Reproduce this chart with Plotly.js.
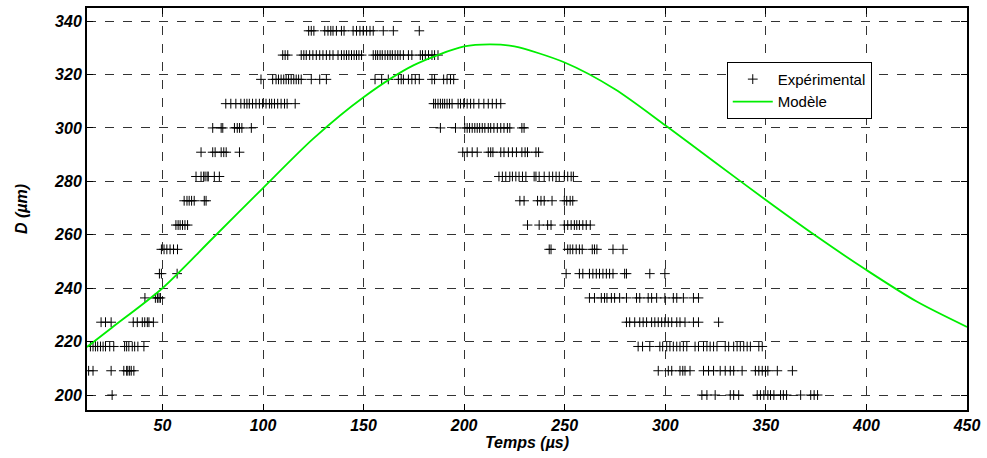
<!DOCTYPE html>
<html>
<head>
<meta charset="utf-8">
<script src="https://cdn.plot.ly/plotly-3.0.1.min.js"></script>
<style>html,body{margin:0;padding:0;background:#fff;}#chart{width:987px;height:458px;}</style>
</head>
<body>
<div id="chart"></div>
<script>
// Diameter levels (µm) of the experimental measurements
const levels = [200, 209.09, 218.18, 227.27, 236.36, 245.45, 254.55, 263.64, 272.73, 281.82, 290.91, 300, 309.09, 318.18, 327.27, 336.36];

// Times (µs) of the experimental points at each level
const t200 = [25, 318.2, 320.7, 324.8, 332.3, 334, 336.5, 345.7, 347.3, 349, 351, 352.3, 354, 357.3, 358.7, 360.3, 367.3, 372.3, 374, 375.7];
const t209 = [13.3, 15.5, 24.5, 30.8, 32.2, 32.8, 33.7, 34.5, 35.8, 296.5, 301.5, 303.2, 307.3, 308.7, 309.8, 312.3, 319, 321.5, 324, 327.3, 329.8, 332.3, 334, 338.2, 344.8, 346.5, 348.2, 349.8, 351, 355.7, 363.2];
const t218 = [14.2, 15.5, 16.7, 17.8, 19.2, 20.5, 21.7, 23.8, 25.8, 31.2, 32.2, 33.3, 35, 36.2, 37.8, 40.8, 286.5, 288.7, 292.3, 297.3, 298.7, 300.7, 302.3, 304, 305.7, 307.3, 309, 310.7, 314.8, 316.5, 319, 320.7, 322.3, 324, 325.7, 329.8, 331.5, 334, 335.7, 337.3, 339, 340.7, 342.3, 346.5, 348.2];
const t227 = [19.5, 21.7, 24.5, 35.5, 37.5, 40, 41.2, 42.5, 43.3, 45.5, 280.7, 282.3, 284.8, 287.3, 289, 290.7, 293.2, 294.8, 296.5, 298.2, 299.8, 301.5, 303.2, 305.7, 307.3, 309.8, 314, 316.5, 326.5];
const t236 = [41.3, 46.5, 47.5, 48.3, 49, 262.3, 264.8, 268.2, 269.8, 271, 273.2, 274.8, 277.3, 280.7, 285.7, 287.3, 291.5, 293.2, 295.7, 299.8, 304, 305.7, 309, 314, 316.5];
const t245 = [48.5, 49.5, 57.3, 250.7, 257.3, 259, 262.3, 264, 265.7, 267.3, 269, 270.7, 272.3, 274, 279.8, 280.7, 292.3, 299.8];
const t255 = [49.5, 50.8, 52.2, 53.8, 55.5, 57.5, 242.3, 243.2, 251.5, 252.7, 254, 255.7, 257.3, 258.7, 263.7, 264.8, 266, 274, 279];
const t264 = [56.7, 57.8, 58.8, 60, 61.2, 62.5, 231.5, 237.3, 241.5, 243.2, 249.8, 251.5, 253.2, 254.8, 256, 257.3, 259, 260.7, 262.7];
const t273 = [60.8, 62.2, 63.3, 64.5, 65.8, 70.8, 71.7, 227.7, 229.8, 236.5, 238.2, 239.8, 243.7, 249.8, 251, 252.7, 254];
const t282 = [66.7, 69.2, 70.5, 71.2, 72.2, 72.8, 75.8, 78.3, 217.3, 219, 220.7, 222.7, 224, 225.7, 227.3, 229, 230.7, 234.8, 235.7, 237.3, 239.8, 242.3, 244, 245.7, 247.3, 249.8, 251.5, 253.2, 254.3];
const t291 = [69.2, 75, 76.2, 79.2, 80.5, 81.7, 88.3, 199.3, 201.5, 204, 206.5, 212, 213.2, 214.3, 218.2, 219.8, 222, 224, 226, 228.7, 230.3, 231.5, 235.7, 237];
const t300 = [75, 79.2, 80, 85.8, 87.2, 88.3, 89.5, 94.2, 188.2, 195.7, 200.3, 201.5, 202.7, 204, 205.3, 206.5, 207.7, 209, 210.3, 212, 213.2, 214.8, 216.5, 218.2, 219.8, 221.5, 222.7, 228.7, 229.8];
const t309 = [81.5, 84, 86.5, 89, 90.7, 92, 93.2, 94.8, 96.5, 98.2, 99.8, 101.5, 103.2, 104.3, 105.7, 107.3, 109, 110.7, 112, 116, 184.8, 185.7, 187, 188.2, 189.3, 190.3, 191.5, 192.7, 194, 197, 198.2, 199.8, 201.5, 203.2, 204.8, 207.3, 209.8, 212, 214, 216, 218.2];
const t318 = [99, 104.8, 106.5, 107.7, 109, 110.3, 111.5, 112.7, 114, 115.3, 116.5, 117.7, 119, 124, 128.2, 131.5, 155.7, 159, 162.3, 167.3, 168.7, 169.8, 172.3, 174, 175.7, 177.7, 184, 185.3, 189.8, 191.5, 193.2, 194.8];
const t327 = [109.8, 111, 112.3, 119, 120.3, 121.5, 123.2, 124.8, 126.5, 128.2, 129.8, 131.5, 133.2, 134.8, 137.3, 139, 140.3, 141.5, 142.7, 144, 145.3, 146.5, 147.7, 149, 154.8, 156, 157, 158.2, 159.3, 160.7, 162, 163.2, 164.3, 165.7, 167, 168.2, 169.8, 172.3, 174, 178.2, 179.3, 180.7, 182.3, 184, 185.3, 187];
const t336 = [122.7, 124, 125.3, 130.7, 132.3, 133.7, 134.8, 136.5, 139, 140.3, 144.8, 146.5, 148.2, 149.8, 151.5, 153.2, 154.8, 159.8, 164.8, 177.7];
const levelTimes = [t200, t209, t218, t227, t236, t245, t255, t264, t273, t282, t291, t300, t309, t318, t327, t336];

// Model curve
const modelT = [12.5, 25, 50, 75, 100, 125, 150, 175, 200, 213, 225, 250, 275, 300, 325, 350, 375, 400, 425, 450];
const modelD = [218, 225.3, 240, 258.7, 277.5, 296, 311.5, 323.5, 330.5, 331.3, 330.5, 324.5, 314.5, 301, 287, 273, 259.5, 246.8, 235, 225.5];

const xTicks = [50, 100, 150, 200, 250, 300, 350, 400, 450];
const yTicks = [200, 220, 240, 260, 280, 300, 320, 340];

const expX = [], expY = [];
levelTimes.forEach((arr, i) => arr.forEach(t => { expX.push(t); expY.push(levels[i]); }));

const tickFont = {family: 'Liberation Sans, Arial, sans-serif', size: 16, color: '#000', weight: 'bold', style: 'italic'};
const axisCommon = {
  showline: true, linecolor: '#000', linewidth: 2, mirror: 'ticks',
  ticks: 'inside', ticklen: 6, tickcolor: '#000', tickwidth: 1,
  showgrid: true, gridcolor: '#333', griddash: 'dash', gridwidth: 1,
  zeroline: false, tickfont: tickFont
};

const traces = [
  {x: expX, y: expY, type: 'scatter', mode: 'markers', name: 'Expérimental',
   marker: {symbol: 'cross-thin', size: 7, color: '#000', line: {color: '#000', width: 1}}},
  {x: modelT, y: modelD, type: 'scatter', mode: 'lines', name: 'Modèle',
   line: {color: '#00ee00', width: 1.8, shape: 'spline', smoothing: 0.8}}
];

const layout = {
  width: 987, height: 458,
  margin: {l: 87, r: 20, t: 8, b: 48},
  paper_bgcolor: '#fff', plot_bgcolor: '#fff',
  showlegend: true,
  legend: {x: 0.727, y: 0.866, xanchor: 'left', yanchor: 'top',
           bgcolor: '#fff', bordercolor: '#000', borderwidth: 1,
           font: {family: 'Liberation Sans, Arial, sans-serif', size: 15, color: '#000'},
           tracegroupgap: 0, itemwidth: 40},
  xaxis: Object.assign({}, axisCommon, {
    range: [12.5, 450], tickvals: xTicks, ticktext: xTicks.map(String),
    title: {text: 'Temps (µs)', font: {family: 'Liberation Sans, Arial, sans-serif', size: 16, color: '#000', weight: 'bold', style: 'italic'}, standoff: 2}
  }),
  yaxis: Object.assign({}, axisCommon, {
    range: [194.4, 344.9], tickvals: yTicks, ticktext: yTicks.map(String),
    title: {text: 'D (µm)', font: {family: 'Liberation Sans, Arial, sans-serif', size: 16, color: '#000', weight: 'bold', style: 'italic'}, standoff: 22}
  })
};

Plotly.newPlot('chart', traces, layout, {displayModeBar: false, staticPlot: true});
</script>
</body>
</html>
